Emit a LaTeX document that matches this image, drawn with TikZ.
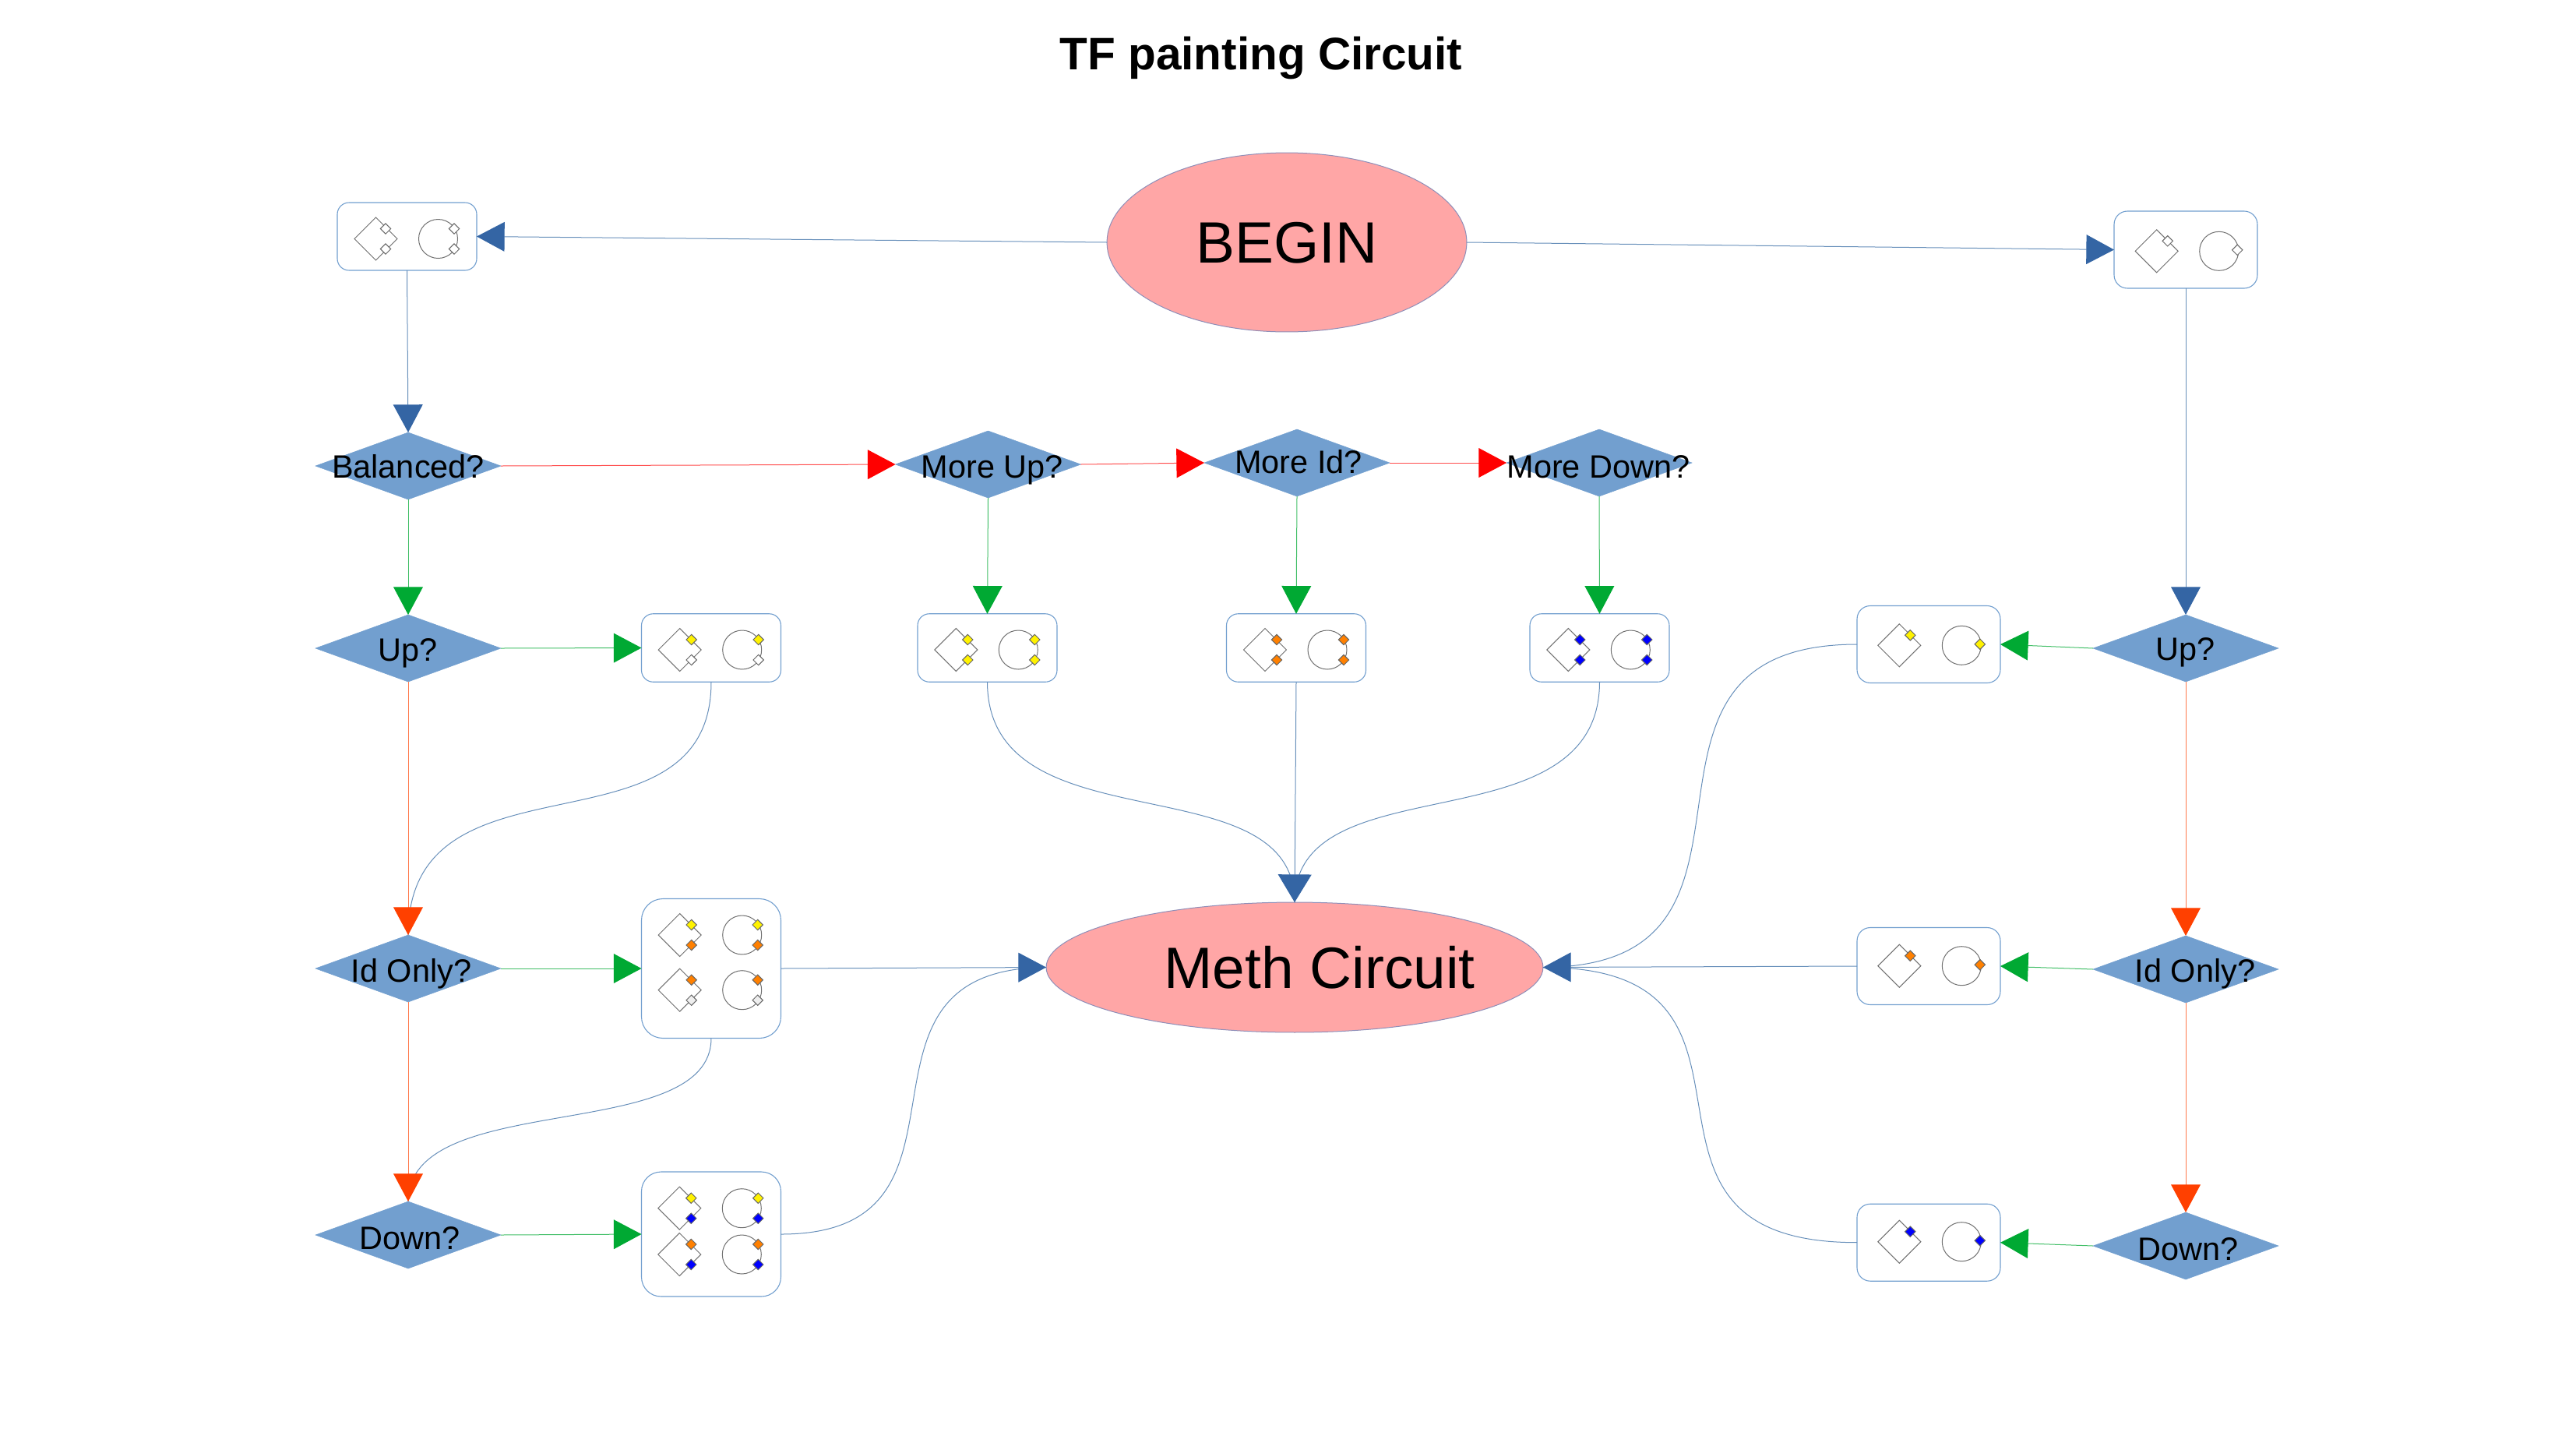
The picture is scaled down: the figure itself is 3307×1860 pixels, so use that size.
\documentclass[tikz,border=0pt]{standalone}
\usepackage{fontspec}
\setmainfont{Liberation Sans}
\usetikzlibrary{arrows.meta,shapes.geometric}
\definecolor{hblue}{HTML}{3465A4}
\definecolor{lblue}{HTML}{729FCF}
\definecolor{hgreen}{HTML}{00A933}
\definecolor{horange}{HTML}{FF4000}
\definecolor{hred}{HTML}{FF0000}
\definecolor{pink}{HTML}{FFA6A6}
\definecolor{edgeell}{HTML}{8E8EB8}
\definecolor{porto}{HTML}{FF8000}
\definecolor{portg}{HTML}{EEEEEE}
\definecolor{glyphc}{HTML}{707070}
\tikzset{
  dec/.style={shape=diamond,draw=lblue,fill=lblue,inner sep=0,outer sep=0,minimum width=4.76cm,minimum height=1.72cm,line width=0.01cm},
  lab/.style={inner sep=0,font=\fontsize{23.6pt}{26pt}\selectfont,text=black},
  term/.style={shape=ellipse,draw=edgeell,fill=pink,inner sep=0,outer sep=0,line width=0.02cm},
  bigtxt/.style={inner sep=0,font=\fontsize{42.6pt}{46pt}\selectfont,text=black},
  hold/.style={draw=lblue,rectangle,inner sep=0,outer sep=0,line width=0.022cm,fill=white},
  conn/.style={line width=0.02cm},
  blueconn/.style={conn,draw=lblue!90!black,-{Triangle[length=20.3pt,width=21.5pt,color=hblue]}},
  bluewide/.style={conn,draw=lblue!90!black,-{Triangle[length=20.3pt,width=24.4pt,color=hblue]}},
  greenconn/.style={conn,draw=hgreen!75,-{Triangle[length=20.3pt,width=21.5pt,color=hgreen]}},
  orangeconn/.style={conn,draw=horange!70,-{Triangle[length=20.3pt,width=21.5pt,color=horange]}},
  redconn/.style={conn,draw=hred!70,-{Triangle[length=20.3pt,width=21.5pt,color=hred]}},
  curve/.style={conn,draw=lblue!90!black},
  glyph/.style={draw=glyphc,line width=0.02cm,fill=white},
  portst/.style={draw=black!60,line width=0.02cm}
}
\newcommand{\portd}[3]{\path[portst,fill=#3] (#1-6.7,#2) -- (#1,#2-6.7) -- (#1+6.7,#2) -- (#1,#2+6.7) -- cycle;}
% row: x y dportdx cportdx c1 c2 c3 c4
\newcommand{\glyphrow}[8]{%
  \path[glyph] (#1-27.5,#2) -- (#1,#2-27.5) -- (#1+27.5,#2) -- (#1,#2+27.5) -- cycle;
  \path[glyph] (#1+80,#2) circle[radius=25];
  \portd{#1+#3}{#2-13}{#5}\portd{#1+#3}{#2+13}{#6}
  \portd{#1+80+#4}{#2-13}{#7}\portd{#1+80+#4}{#2+13}{#8}
}
\newcommand{\glyphone}[3]{%
  \path[glyph] (#1-27.5,#2) -- (#1,#2-27.5) -- (#1+27.5,#2) -- (#1,#2+27.5) -- cycle;
  \path[glyph] (#1+80,#2) circle[radius=25];
  \portd{#1+14}{#2-13}{#3}\portd{#1+80+23.5}{#2-1.5}{#3}
}
\begin{document}
\begin{tikzpicture}[x=0.02cm,y=-0.02cm]
\useasboundingbox (0,0) rectangle (3307,1860);
\node[inner sep=0,font=\fontsize{33.3pt}{38pt}\selectfont\bfseries] (title) at (1619,74) {TF painting Circuit};

\node[term,minimum width=9.24cm,minimum height=4.6cm] (begin) at (1652,311) {};
\node[bigtxt] (tbegin) at (1652,312) {BEGIN};
\node[term,minimum width=12.76cm,minimum height=3.34cm] (meth) at (1662,1241.5) {};
\node[bigtxt] (tmeth) at (1694,1242) {Meth Circuit};

% holders
\node[hold,rounded corners=0.3cm,minimum width=3.58cm,minimum height=1.74cm] (sl) at (522.5,303.5) {};
\node[hold,rounded corners=0.34cm,minimum width=3.68cm,minimum height=1.98cm] (sr) at (2806,320.5) {};
\node[hold,rounded corners=0.3cm,minimum width=3.58cm,minimum height=1.75cm] (bu) at (913,831.5) {};
\node[hold,rounded corners=0.3cm,minimum width=3.58cm,minimum height=1.75cm] (bmu) at (1267.5,831.5) {};
\node[hold,rounded corners=0.3cm,minimum width=3.58cm,minimum height=1.75cm] (bmi) at (1664,831.5) {};
\node[hold,rounded corners=0.3cm,minimum width=3.58cm,minimum height=1.75cm] (bmd) at (2053.5,831.5) {};
\node[hold,rounded corners=0.55cm,minimum width=3.58cm,minimum height=3.58cm] (bi) at (913,1243) {};
\node[hold,rounded corners=0.5cm,minimum width=3.58cm,minimum height=3.2cm] (bd) at (913,1584) {};
\node[hold,rounded corners=0.34cm,minimum width=3.68cm,minimum height=1.98cm] (ru) at (2476,827) {};
\node[hold,rounded corners=0.34cm,minimum width=3.68cm,minimum height=1.98cm] (ri) at (2476,1240) {};
\node[hold,rounded corners=0.34cm,minimum width=3.68cm,minimum height=1.98cm] (rd) at (2476,1594.7) {};

% decisions
\node[dec] (dbal) at (524,598) {};
\node[dec] (dmu) at (1268.5,596) {};
\node[dec] (dmi) at (1665,594) {};
\node[dec] (dmd) at (2053,594) {};
\node[dec] (du) at (524,832) {};
\node[dec] (di) at (524,1243) {};
\node[dec] (dd) at (524,1585) {};
\node[dec] (dru) at (2806,832) {};
\node[dec] (dri) at (2806,1244) {};
\node[dec] (drd) at (2806,1599) {};

\node[lab] (tbal) at (524,599) {Balanced?};
\node[lab] (tmu) at (1274,603) {More Up?};
\node[lab] (tmi) at (1667,593) {More Id?};
\node[lab] (tmd) at (2052,599) {More Down?};
\node[lab] (tu) at (524,838) {Up?};
\node[lab] (ti) at (528,1250) {Id Only?};
\node[lab] (td) at (526,1589) {Down?};
\node[lab] (tru) at (2806,837) {Up?};
\node[lab] (tri) at (2818,1250) {Id Only?};
\node[lab] (trd) at (2809,1603) {Down?};

% curves
\draw[curve] (bu.south) .. controls (913,1110) and (524,952) .. (di.north);
\draw[curve] (bi.south) .. controls (913,1470) and (524,1397) .. (dd.north);
\draw[curve] (bmu.south) .. controls (1268,1090) and (1662,976) .. (meth.north);
\draw[curve] (bmd.south) .. controls (2053,1090) and (1662,976) .. (meth.north);
\draw[curve] (ru.west) .. controls (2038,827) and (2322,1241) .. (meth.east);
\draw[curve] (rd.west) .. controls (2038,1595) and (2322,1241) .. (meth.east);
\draw[curve] (bd.east) .. controls (1285,1584) and (1059,1243) .. (meth.west);

% straight connectors
\draw[blueconn] (begin.west) -- (sl.east);
\draw[blueconn] (begin.east) -- (sr.west);
\draw[blueconn] (sl.south) -- (dbal.north);
\draw[blueconn] (sr.south) -- (dru.north);
\draw[redconn] (dbal.east) -- (dmu.west);
\draw[redconn] (dmu.east) -- (dmi.west);
\draw[redconn] (dmi.east) -- (dmd.west);
\draw[greenconn] (dbal.south) -- (du.north);
\draw[greenconn] (dmu.south) -- (bmu.north);
\draw[greenconn] (dmi.south) -- (bmi.north);
\draw[greenconn] (dmd.south) -- (bmd.north);
\draw[greenconn] (du.east) -- (bu.west);
\draw[greenconn] (di.east) -- (bi.west);
\draw[greenconn] (dd.east) -- (bd.west);
\draw[greenconn] (dru.west) -- (ru.east);
\draw[greenconn] (dri.west) -- (ri.east);
\draw[greenconn] (drd.west) -- (rd.east);
\draw[orangeconn] (du.south) -- (di.north);
\draw[orangeconn] (di.south) -- (dd.north);
\draw[orangeconn] (dru.south) -- (dri.north);
\draw[orangeconn] (dri.south) -- (drd.north);
\draw[bluewide] (bmi.south) -- (meth.north);
\draw[blueconn] (bi.east) -- (meth.west);
\draw[blueconn] (ri.west) -- (meth.east);

% glyphs
\glyphrow{482.5}{306.5}{12.5}{20.5}{white}{white}{white}{white}
\glyphone{2768.7}{322.3}{white}
\glyphrow{872.7}{834}{15}{21}{yellow}{white}{yellow}{white}
\glyphrow{1227.3}{834}{15}{21}{yellow}{yellow}{yellow}{yellow}
\glyphrow{1624}{834}{15}{21}{porto}{porto}{porto}{porto}
\glyphrow{2013.3}{834}{15}{21}{blue}{blue}{blue}{blue}
\glyphrow{872.7}{1200}{15}{20}{yellow}{porto}{yellow}{porto}
\glyphrow{872.7}{1270.7}{15}{20}{porto}{portg}{porto}{portg}
\glyphrow{872.3}{1550.7}{15}{21}{yellow}{blue}{yellow}{blue}
\glyphrow{872.3}{1610}{15}{21}{porto}{blue}{porto}{blue}
\glyphone{2438.3}{828.3}{yellow}
\glyphone{2438.3}{1239.7}{porto}
\glyphone{2438.3}{1593.7}{blue}
\end{tikzpicture}
\end{document}
